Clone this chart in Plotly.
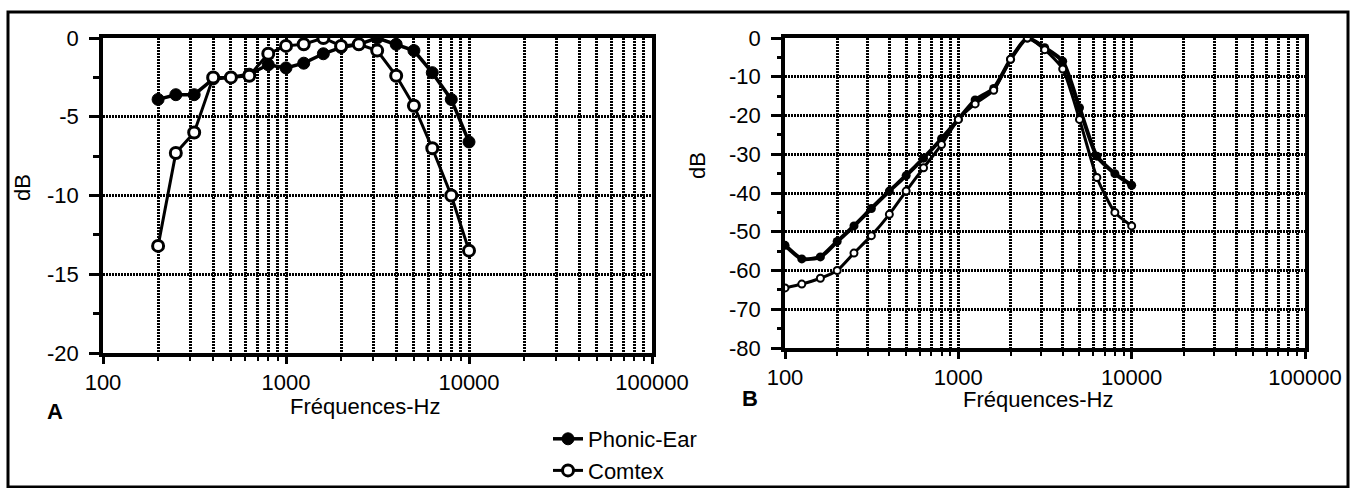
import plotly.graph_objects as go

# ---------------- data ----------------
freq_A = [200, 250, 315, 400, 500, 630, 800, 1000, 1250, 1600, 2000, 2500, 3150, 4000, 5000, 6300, 8000, 10000]
phonic_A = [-3.9, -3.6, -3.6, -2.6, -2.5, -2.3, -1.7, -1.9, -1.6, -1.0, -0.6, -0.4, 0.0, -0.4, -0.8, -2.2, -3.9, -6.6]
comtex_A = [-13.2, -7.3, -6.0, -2.5, -2.5, -2.4, -1.0, -0.5, -0.4, 0.0, -0.5, -0.4, -0.8, -2.4, -4.3, -7.0, -10.0, -13.5]

freq_B = [100, 125, 160, 200, 250, 315, 400, 500, 630, 800, 1000, 1250, 1600, 2000, 2500, 3150, 4000, 5000, 6300, 8000, 10000]
phonic_B = [-53.5, -57, -56.5, -52.5, -48.5, -44, -39.5, -35.5, -31, -26, -21, -16, -13, -5.5, 0, -2.5, -6, -18, -30.5, -35, -38]
comtex_B = [-64.5, -63.5, -62, -60, -55.5, -51, -45.5, -39.5, -33.5, -27.5, -21, -17, -13.5, -5.5, 0, -3, -8, -21, -36, -45, -48.5]

x_tick_vals = [100, 1000, 10000, 100000]
x_tick_text = ["100", "1000", "10000", "100000"]
yA_tick_vals = [0, -5, -10, -15, -20]
yA_tick_text = ["0", "-5", "-10", "-15", "-20"]
yB_tick_vals = [0, -10, -20, -30, -40, -50, -60, -70, -80]
yB_tick_text = ["0", "-10", "-20", "-30", "-40", "-50", "-60", "-70", "-80"]

series_names = ["Phonic-Ear", "Comtex"]
x_title = "Fréquences-Hz"
y_title = "dB"
panel_labels = ["A", "B"]

# ---------------- layout helpers ----------------
W, H = 1357, 488
FONT = "Liberation Sans, Arial, sans-serif"


def px_x(p):
    return p / W


def px_y(p):
    return 1 - p / H


minor_vals = [m * 10 ** e for e in range(2, 5) for m in range(2, 10)]

fig = go.Figure()

# Panel A
fig.add_trace(go.Scatter(x=freq_A, y=phonic_A, mode="lines+markers", name=series_names[0],
                         legendgroup="p", showlegend=True,
                         line=dict(color="black", width=3.5),
                         marker=dict(symbol="circle", size=12, color="black",
                                     line=dict(color="black", width=1)),
                         xaxis="x", yaxis="y"))
fig.add_trace(go.Scatter(x=freq_A, y=comtex_A, mode="lines+markers", name=series_names[1],
                         legendgroup="c", showlegend=True,
                         line=dict(color="black", width=3),
                         marker=dict(symbol="circle", size=11, color="white",
                                     line=dict(color="black", width=3)),
                         xaxis="x", yaxis="y"))
# Panel B
fig.add_trace(go.Scatter(x=freq_B, y=phonic_B, mode="lines+markers", name=series_names[0],
                         legendgroup="p", showlegend=False,
                         line=dict(color="black", width=4, shape="spline", smoothing=0.6),
                         marker=dict(symbol="circle", size=9, color="black"),
                         xaxis="x2", yaxis="y2"))
fig.add_trace(go.Scatter(x=freq_B, y=comtex_B, mode="lines+markers", name=series_names[1],
                         legendgroup="c", showlegend=False,
                         line=dict(color="black", width=3, shape="spline", smoothing=0.6),
                         marker=dict(symbol="circle", size=7, color="white",
                                     line=dict(color="black", width=2)),
                         xaxis="x2", yaxis="y2"))

GRID_DASH = "2px,1px"
grid = dict(showgrid=True, gridcolor="black", gridwidth=2.5, griddash=GRID_DASH)
xcommon = dict(type="log", range=[2, 5], tickmode="array", tickvals=x_tick_vals, ticktext=x_tick_text,
               showline=True, linecolor="black", linewidth=3.5, mirror=True,
               ticks="outside", ticklen=7, tickwidth=3, tickcolor="black",
               tickfont=dict(size=22, color="black", family=FONT), zeroline=False,
               automargin=False,
               minor=dict(tickvals=minor_vals, showgrid=True, gridcolor="black", gridwidth=2.5,
                          griddash=GRID_DASH, ticks="outside", ticklen=4, tickwidth=2, tickcolor="black"),
               **grid)
ycommon = dict(showline=True, linecolor="black", linewidth=3.5, mirror=True,
               ticks="outside", ticklen=10, tickwidth=3, tickcolor="black",
               tickfont=dict(size=22, color="black", family=FONT), zeroline=False,
               automargin=False, ticklabelstandoff=6, **grid)

fig.update_layout(
    width=W, height=H, margin=dict(l=0, r=0, t=0, b=0, autoexpand=False),
    paper_bgcolor="white", plot_bgcolor="white",
    font=dict(family=FONT, color="black", size=22),
    xaxis=dict(domain=[px_x(103), px_x(652)], anchor="y", **xcommon),
    yaxis=dict(domain=[px_y(353), px_y(38)], anchor="x", range=[-20, 0],
               tickmode="array", tickvals=yA_tick_vals, ticktext=yA_tick_text,
               minor=dict(dtick=2.5, ticks="outside", ticklen=6, tickwidth=3, tickcolor="black"),
               **ycommon),
    xaxis2=dict(domain=[px_x(785), px_x(1305)], anchor="y2", **xcommon),
    yaxis2=dict(domain=[px_y(348), px_y(38)], anchor="x2", range=[-80, 0],
                tickmode="array", tickvals=yB_tick_vals, ticktext=yB_tick_text,
                minor=dict(dtick=5, ticks="outside", ticklen=4, tickwidth=3, tickcolor="black"),
                **ycommon),
    showlegend=True,
    legend=dict(x=px_x(548), y=px_y(418), xanchor="left", yanchor="top",
                font=dict(size=22, color="black", family=FONT),
                bgcolor="rgba(0,0,0,0)", borderwidth=0, tracegroupgap=0),
)

# outer frame
fig.add_shape(type="rect", xref="paper", yref="paper",
              x0=px_x(8), x1=px_x(1348), y0=px_y(487), y1=px_y(12),
              line=dict(color="black", width=3))

ann = [
    dict(text=y_title, x=px_x(22), y=px_y(188), textangle=-90),
    dict(text=y_title, x=px_x(697), y=px_y(166), textangle=-90),
    dict(text=x_title, x=px_x(365), y=px_y(406)),
    dict(text=x_title, x=px_x(1038), y=px_y(399)),
    dict(text="<b>" + panel_labels[0] + "</b>", x=px_x(55), y=px_y(411)),
    dict(text="<b>" + panel_labels[1] + "</b>", x=px_x(750), y=px_y(398)),
]
for a in ann:
    fig.add_annotation(xref="paper", yref="paper", showarrow=False,
                       xanchor="center", yanchor="middle",
                       font=dict(size=22, color="black", family=FONT), **a)

fig.write_html("out.html", config={"displayModeBar": False},
               post_script="document.body.style.margin='0';document.body.style.overflow='hidden';")
